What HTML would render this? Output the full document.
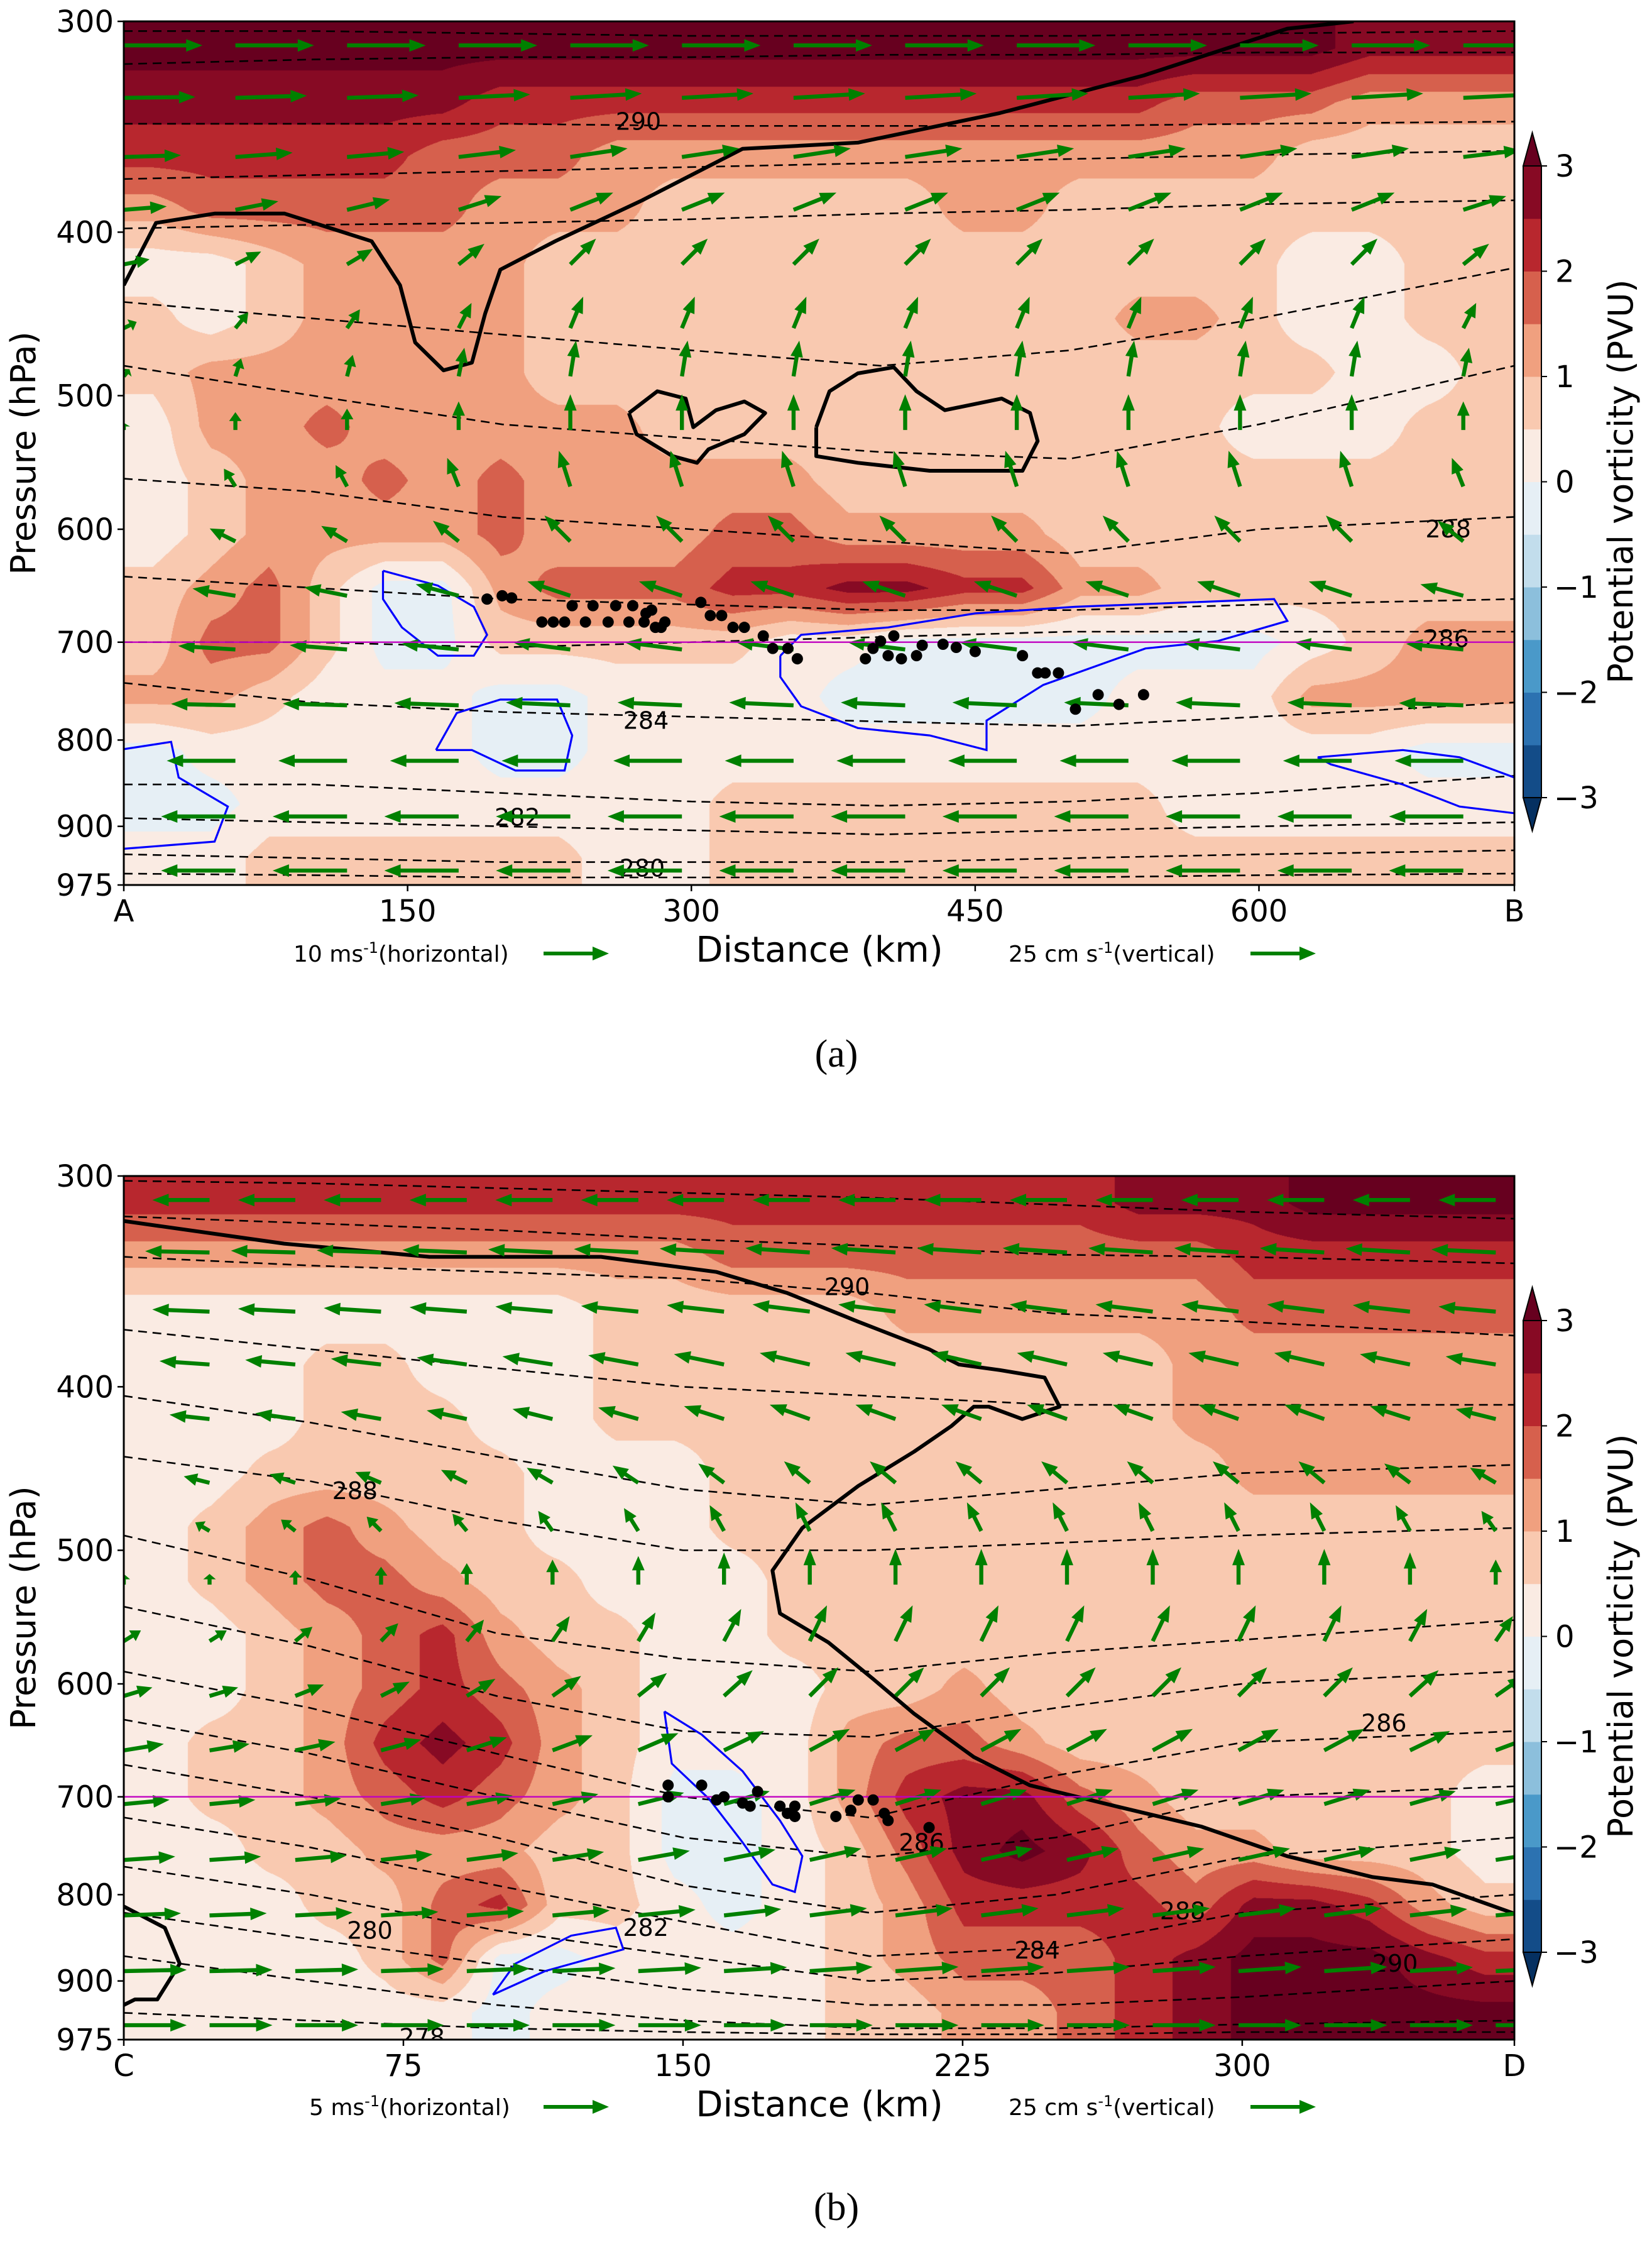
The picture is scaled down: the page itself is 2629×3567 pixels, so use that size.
<!DOCTYPE html>
<html><head><meta charset="utf-8">
<style>
html,body{margin:0;padding:0;background:#fff;}
#root{position:relative;width:2629px;height:3567px;overflow:hidden;font-family:"DejaVu Sans","Liberation Sans",sans-serif;}
canvas{position:absolute;}
svg{position:absolute;left:0;top:0;}
</style></head>
<body>
<div id="root">
<canvas id="cvA" width="2213" height="1374" style="left:197px;top:34px"></canvas>
<canvas id="cvB" width="2213" height="1374" style="left:197px;top:1871px"></canvas>
<svg id="svg" width="2629" height="3567"></svg>
</div>
<script>
// ---------- data ----------
const yTicks=[300,400,500,600,700,800,900,975];
const xTicksA=[0,150,300,450,600,735];
const xTickLabelsA=["A","150","300","450","600","B"];
const xTicksB=[0,75,150,225,300,373];
const xTickLabelsB=["C","75","150","225","300","D"];
const cbTicks=[3,2,1,0,-1,-2,-3];
const cbTickLabels=["3","2","1","0","\u22121","\u22122","\u22123"];
const levelColors=["#134c88","#2c72b1","#4a99c9","#8cbfdc","#c2ddec","#e6eff5","#faebe3","#f9c9b0","#f0a07f","#d6604d","#b8272e","#870a24"];
const overColor="#67001f", underColor="#053061";

const pvA=[
[3.2,3.2,3.2,3.2,3.2,3.2,3.2,3.2,3.2,3.2,3.2,3.2,3.2,3.2,3.2,3.2,3.2,3.2,3.2,3.2,3.2,2.7,2.7,2.7],
[2.7,2.7,2.7,2.7,2.7,2.7,2.2,2.2,2.2,2.2,2.2,2.2,2.2,2.2,2.2,2.2,2.2,2.2,1.7,1.7,1.7,1.2,1.2,1.2],
[2.2,2.2,2.2,2.2,2.2,1.7,1.7,1.7,1.2,1.2,1.2,1.2,1.2,1.2,1.2,1.2,1.2,1.2,1.2,1.2,0.7,0.7,0.7,0.7],
[1.2,1.7,1.7,1.7,1.7,1.7,1.2,1.2,1.2,0.7,0.7,0.7,0.7,0.7,1.2,1.2,0.7,0.7,0.7,0.7,0.7,0.7,0.7,0.7],
[0.2,0.2,0.7,1.2,1.2,1.2,1.2,0.7,0.7,0.7,0.7,0.7,0.7,0.7,0.7,0.7,0.7,0.7,0.7,0.7,0.2,0.2,0.7,0.7],
[0.7,0.2,0.7,1.2,1.2,1.2,1.2,0.7,0.7,0.7,0.7,0.7,0.7,0.7,0.7,0.7,0.7,1.2,1.2,0.7,0.2,0.2,0.7,0.7],
[0.7,1.2,1.2,1.2,1.2,1.2,1.2,0.7,0.7,0.7,0.7,0.7,0.7,0.7,0.7,0.7,0.7,0.7,0.7,0.7,0.7,0.2,0.2,0.7],
[0.2,1.2,1.2,1.7,1.2,1.2,1.2,1.2,1.2,0.7,0.7,0.7,0.7,0.7,0.7,0.7,0.7,0.7,0.7,0.2,0.2,0.2,0.7,0.7],
[0.2,0.7,1.2,1.2,1.7,1.2,1.7,1.2,1.2,1.2,1.2,1.2,0.7,0.7,0.7,0.7,0.7,0.7,0.7,0.7,0.7,0.7,0.7,0.7],
[0.2,0.7,1.2,1.2,1.2,1.2,1.7,1.2,1.2,1.2,1.7,1.7,1.2,1.2,1.2,1.2,0.7,0.7,0.7,0.7,0.7,0.7,0.7,0.7],
[0.7,1.2,1.7,0.7,-0.2,-0.2,1.2,1.7,1.7,1.7,2.2,2.2,2.7,2.7,2.2,2.2,1.2,1.2,0.7,0.7,0.7,0.7,0.7,0.7],
[0.7,1.7,1.7,0.7,-0.2,-0.2,0.7,0.7,0.7,0.7,0.7,0.2,0.2,-0.2,-0.2,-0.2,-0.2,-0.2,-0.2,-0.2,0.2,0.7,1.2,1.2],
[1.2,1.2,0.7,0.2,0.2,0.2,-0.2,-0.2,0.2,0.2,0.2,0.2,-0.2,-0.2,-0.2,-0.2,-0.2,0.2,0.2,0.2,1.2,1.2,1.2,1.2],
[-0.2,0.2,0.2,0.2,0.2,0.2,-0.2,-0.2,0.2,0.2,0.2,0.2,0.2,0.2,0.2,0.2,0.2,0.2,0.2,0.2,0.2,0.2,-0.2,-0.2],
[-0.2,-0.2,0.2,0.2,0.2,0.2,0.2,0.2,0.2,0.2,0.7,0.7,0.7,0.7,0.7,0.7,0.7,0.7,0.2,0.2,0.2,0.2,0.2,0.2],
[0.2,0.2,0.7,0.7,0.7,0.7,0.7,0.7,0.2,0.2,0.7,0.7,0.7,0.7,0.7,0.7,0.7,0.7,0.7,0.7,0.7,0.7,0.7,0.7]];
const pvB=[
[2.2,2.2,2.2,2.2,2.2,2.2,2.2,2.2,2.2,2.2,2.2,2.2,2.2,2.2,2.2,2.2,2.2,2.7,2.7,2.7,3.2,3.2,3.2,3.2],
[1.2,1.2,1.2,1.2,1.2,1.2,1.2,1.2,1.2,1.2,1.7,1.7,1.7,1.7,1.7,1.7,1.7,1.7,1.7,2.2,2.2,2.2,2.2,2.2],
[0.2,0.2,0.2,0.2,0.2,0.2,0.2,0.2,0.7,0.7,0.7,0.7,0.7,1.2,1.2,1.2,1.2,1.2,1.2,1.7,1.7,1.7,1.7,1.7],
[0.2,0.2,0.2,0.7,0.7,0.2,0.2,0.2,0.7,0.7,0.7,0.7,0.7,0.7,0.7,0.7,0.7,0.7,1.2,1.2,1.2,1.2,1.2,1.2],
[0.2,0.2,0.2,0.7,0.7,0.7,0.2,0.2,0.7,0.7,0.7,0.7,0.7,0.7,0.7,0.7,0.7,0.7,1.2,1.2,1.2,1.2,1.2,1.2],
[0.2,0.2,0.7,0.7,0.7,0.7,0.7,0.2,0.2,0.2,0.7,0.7,0.7,0.7,0.7,0.7,0.7,0.7,0.7,1.2,1.2,1.2,1.2,1.2],
[0.2,0.7,1.2,1.7,1.2,0.7,0.7,0.2,0.2,0.2,0.7,0.7,0.7,0.7,0.7,0.7,0.7,0.7,0.7,0.7,0.7,0.7,0.7,0.7],
[0.2,0.7,1.2,1.7,1.7,1.2,0.7,0.7,0.2,0.2,0.2,0.7,0.7,0.7,0.7,0.7,0.7,0.7,0.7,0.7,0.7,0.7,0.7,0.7],
[0.2,0.2,0.7,1.2,1.7,2.2,1.2,0.7,0.7,0.2,0.2,0.7,0.7,0.7,0.7,0.7,0.7,0.7,0.7,0.7,0.7,0.7,0.7,0.7],
[0.2,0.2,0.7,1.2,1.7,2.2,1.7,1.2,0.7,0.2,0.2,0.2,0.7,0.7,1.2,0.7,0.7,0.7,0.7,0.7,0.7,0.7,0.7,0.7],
[0.2,0.7,0.7,1.2,2.2,2.7,2.2,1.2,0.7,0.2,0.2,0.2,1.2,1.7,1.7,1.2,0.7,0.7,0.7,0.7,0.7,0.7,0.7,0.7],
[0.2,0.7,0.7,1.2,1.7,2.2,1.7,1.2,0.7,-0.2,-0.2,0.2,1.2,2.2,2.7,2.7,1.7,1.2,0.7,0.7,0.7,0.7,0.7,0.2],
[0.2,0.2,0.7,0.7,1.2,1.2,1.2,0.7,0.7,-0.2,-0.2,0.2,0.7,1.7,2.7,3.2,2.7,1.7,1.2,1.2,0.7,0.7,0.7,0.2],
[0.2,0.2,0.2,0.7,0.7,1.7,2.2,0.7,0.7,0.2,-0.2,0.2,0.7,1.2,2.2,2.2,2.2,2.2,1.7,2.7,2.7,2.2,1.2,0.7],
[0.2,0.2,0.2,0.2,0.7,1.7,-0.2,-0.2,0.2,0.2,0.2,0.2,0.7,1.2,1.7,1.7,1.7,2.2,2.7,3.2,3.2,3.2,2.7,2.2],
[0.2,0.2,0.2,0.2,0.2,0.2,-0.2,0.2,0.2,0.2,0.2,0.2,0.7,0.7,1.2,1.2,1.7,2.2,2.7,3.2,3.2,3.2,3.2,3.2]];

// theta contour lines (hPa at km stations)
const thetaKmA=[0,100,200,300,400,500,600,735];
const thetaA=[
[304,304,305,306,306,306,305,304],[318,316,315,315,314,314,313,313],[345,345,345,346,346,346,345,344],
[372,370,368,366,364,362,360,358],[398,396,395,393,390,388,385,383],[440,450,460,470,480,470,450,420],
[480,500,520,530,540,545,520,480],[560,570,590,600,610,620,600,590],[640,650,660,665,670,670,665,660],
[700,700,705,700,695,690,690,690],[740,760,770,775,780,785,775,760],[850,850,860,870,875,870,860,840],
[890,895,900,905,910,905,900,895],[935,940,945,945,945,940,935,930],[960,962,965,965,965,965,962,960]];
const thetaKmB=[0,50,100,150,200,250,300,373];
const thetaB=[
[302,303,305,307,309,312,315,318],[317,320,323,327,330,334,335,338],[335,339,342,345,352,362,366,373],
[370,380,390,400,405,410,410,410],[405,420,440,460,470,460,450,445],[440,455,480,500,500,495,490,485],
[490,520,560,580,590,575,565,550],[540,570,610,640,645,620,600,590],[590,620,660,700,720,680,650,640],
[630,660,700,740,760,740,700,690],[670,700,740,790,820,800,760,740],[720,750,790,830,870,860,820,800],
[770,800,840,870,900,890,870,850],[820,850,880,910,930,930,920,900],[870,900,930,950,960,960,955,950],
[940,950,960,965,968,968,965,965]];
const thetaLabelsA=[["290",272,344],["288",700,600],["286",699,697],["284",276,779],["282",208,889],["280",274,953]];
const thetaLabelsB=[["290",194,349],["288",62,461],["286",338,633],["286",214,745],["284",245,863],["288",284,818],["290",341,879],["282",140,837],["280",66,840],["278",80,972]];

// 2-PVU contour (km,hPa)
const pv2A=[[[0,430],[17,395],[48,390],[85,390],[131,405],[146,430],[154,465],[169,483],[184,478],[191,447],[199,421],[228,405],[274,383],[327,357],[388,354],[463,340],[539,323],[615,303],[650,300]],
[[267,512],[282,497],[297,502],[301,522],[313,510],[328,504],[339,512],[328,527],[309,538],[303,548],[290,543],[271,527],[267,512]],
[[366,522],[373,497],[388,485],[407,481],[419,497],[434,510],[464,502],[479,512],[483,532],[475,554],[426,554],[388,548],[366,543],[366,522]]];
const pv2B=[[[0,319],[43,329],[82,335],[128,335],[159,342],[178,352],[197,366],[216,380],[224,388],[235,391],[247,395],[251,411],[241,418],[232,411],[228,411],[222,422],[212,437],[197,458],[182,485],[174,514],[176,545],[189,567],[201,596],[212,625],[228,663],[243,689],[266,709],[289,729],[312,759],[335,781],[351,789],[373,821]],
[[0,813],[11,837],[15,879],[9,923],[3,923],[0,930]]];
// 0-PVU contour (km,hPa)
const pv0A=[[[137,635],[166,648],[185,667],[192,693],[185,713],[166,713],[147,686],[137,660],[137,635]],
[[347,713],[358,693],[404,686],[450,673],[503,667],[608,660],[615,680],[578,699],[540,706],[486,742],[456,779],[456,811],[426,795],[388,787],[358,764],[347,734],[347,713]],
[[165,811],[176,771],[199,757],[229,757],[237,795],[233,834],[207,834],[184,811],[165,811]],
[[0,810],[25,802],[29,842],[55,876],[48,919],[0,928]],
[[631,819],[676,811],[706,819],[735,842],[735,884],[706,876],[676,850],[638,827],[631,819]]];
const pv0B=[[[145,623],[155,643],[166,676],[176,723],[182,759],[180,797],[174,789],[166,745],[157,702],[147,669],[145,623]],
[[99,917],[105,879],[120,846],[132,837],[134,862],[113,888],[99,917]]];

// trajectory points (km,hPa)
const dotsA=[[192,660],[200,657],[205,659],[221,681],[227,681],[233,681],[237,666],[244,681],[248,666],[256,681],[260,666],[267,681],[269,666],[275,681],[276,673],[279,670],[281,686],[284,686],[286,681],[305,663],[310,675],[316,675],[322,686],[328,686],[338,694],[343,706],[351,706],[356,716],[392,716],[396,706],[400,699],[404,713],[407,694],[411,716],[419,713],[422,703],[433,702],[440,705],[450,709],[475,713],[483,730],[487,730],[494,730],[503,767],[515,752],[526,762],[539,752]];
const dotsB=[[146,689],[146,700],[155,689],[159,703],[161,700],[166,706],[168,709],[170,695],[176,709],[178,716],[180,709],[180,719],[191,719],[195,713],[197,703],[201,703],[204,716],[205,723],[216,730]];

// wind vectors: rows in hPa, per-row u and w (display units), per-column w factor
const windRowsP=[310,333,361,388,418,456,487,524,566,610,657,707,763,823,888,956];
const uA=[55,50,40,30,18,9,4,0,-8,-18,-30,-40,-45,-48,-52,-52];
const wA=[0,3,6,12,18,22,25,25,25,18,10,5,2,0,0,0];
const wColA=[0.2,0.5,0.6,0.8,1,1,1,1,1,1,1,1,0.8];
const windColKmA=[0,59,118,177,236,295,354,413,472,531,590,649,708];
const uB=[-40,-45,-40,-35,-28,-18,-10,0,12,20,28,32,36,40,44,44];
const wB=[0,3,5,8,10,15,20,25,25,20,15,10,8,5,3,0];
const wColB=[0.3,0.3,0.4,0.5,0.6,0.7,0.8,0.9,1,1,1,1,1,1,1,0.9,0.7];
const windColKmB=[0,23,46,69,92,115,138,161,184,207,230,253,276,299,322,345,368];

// ---------- geometry ----------
const X0=197,X1=2410,PH=1374,TOPA=34,TOPB=1871,SC=2.276;
const LN=Math.log(975/300);
function xScale(km,maxKm){return X0+km*(X1-X0)/maxKm;}
function yScale(p,top){return top+PH*Math.log(p/300)/LN;}
const svg=document.getElementById('svg');
const NS="http://www.w3.org/2000/svg";
function mk(tag,attrs,parent){const e=document.createElementNS(NS,tag);for(const k in attrs)e.setAttribute(k,attrs[k]);(parent||svg).appendChild(e);return e;}
function colorFor(v){if(v>=3)return overColor;if(v<-3)return underColor;return levelColors[Math.min(11,Math.floor((v+3)/0.5))];}
function hex(c){return [parseInt(c.substr(1,2),16),parseInt(c.substr(3,2),16),parseInt(c.substr(5,2),16)];}

function drawField(cv,grid){
  const ctx=cv.getContext('2d');const W=cv.width,H=cv.height;
  const img=ctx.createImageData(W,H);const d=img.data;
  const R=grid.length,C=grid[0].length;
  for(let y=0;y<H;y++){
    let gy=y/H*R-0.5;gy=Math.max(0,Math.min(R-1,gy));const r0=Math.floor(gy),r1=Math.min(R-1,r0+1),fy=gy-r0;
    for(let x=0;x<W;x++){
      let gx=x/W*C-0.5;gx=Math.max(0,Math.min(C-1,gx));const c0=Math.floor(gx),c1=Math.min(C-1,c0+1),fx=gx-c0;
      const v=(grid[r0][c0]*(1-fx)+grid[r0][c1]*fx)*(1-fy)+(grid[r1][c0]*(1-fx)+grid[r1][c1]*fx)*fy;
      const col=hex(colorFor(v));const i=(y*W+x)*4;d[i]=col[0];d[i+1]=col[1];d[i+2]=col[2];d[i+3]=255;
    }
  }
  ctx.putImageData(img,0,0);
}
drawField(document.getElementById('cvA'),pvA);
drawField(document.getElementById('cvB'),pvB);

function pathOf(pts,maxKm,top){return pts.map((p,i)=>(i?'L':'M')+xScale(p[0],maxKm).toFixed(1)+','+yScale(p[1],top).toFixed(1)).join(' ');}

function drawPanel(top,maxKm,theta,thetaKm,labels,pv2,pv0,dots,u,w,wCol,colKm,xt,xtl,tag){
  const g=mk('g',{});
  
  
  mk('clipPath',{id:'clip'+tag},g).appendChild((()=>{const r=document.createElementNS(NS,'rect');r.setAttribute('x',X0);r.setAttribute('y',top);r.setAttribute('width',X1-X0);r.setAttribute('height',PH);return r;})());
  const inner=mk('g',{'clip-path':'url(#clip'+tag+')'},g);
  theta.forEach((row)=>{
    const pts=row.map((p,i)=>[thetaKm[i],p]);
    const e=mk('path',{d:pathOf(pts,maxKm,top),fill:'none',stroke:'#000','stroke-width':2.6,'stroke-dasharray':'14 9'},inner);
    
    
  });
  labels.forEach(l=>{
    const t=mk('text',{x:xScale(l[1],maxKm),y:yScale(l[2],top)+13,'font-size':38,'text-anchor':'middle',fill:'#000'},inner);
    t.textContent=l[0];
    
    
  });
  pv0.forEach(pts=>{
    const e=mk('path',{d:pathOf(pts,maxKm,top),fill:'none',stroke:'#0000ff','stroke-width':3.2},inner);
    
    
  });
  pv2.forEach(pts=>{
    const e=mk('path',{d:pathOf(pts,maxKm,top),fill:'none',stroke:'#000','stroke-width':6,'stroke-linejoin':'round'},inner);
    
    
  });
  windRowsP.forEach((p,ri)=>{
    colKm.forEach((km,ci)=>{
      const dx=u[ri]*SC, dy=-w[ri]*wCol[ci]*SC;
      const L=Math.hypot(dx,dy); if(L<6)return;
      const x0=xScale(km,maxKm), y0=yScale(p,top);
      const ux=dx/L, uy=dy/L, nx=-uy, ny=ux;
      const hl=Math.min(26,L*0.5), sw=3.2, hw=10;
      const bx=x0+ux*(L-hl), by=y0+uy*(L-hl);
      const pts=[[x0+nx*sw,y0+ny*sw],[bx+nx*sw,by+ny*sw],[bx+nx*hw,by+ny*hw],[x0+dx,y0+dy],[bx-nx*hw,by-ny*hw],[bx-nx*sw,by-ny*sw],[x0-nx*sw,y0-ny*sw]];
      const a=mk('polygon',{points:pts.map(q=>q[0].toFixed(1)+','+q[1].toFixed(1)).join(' '),fill:'#008000'},inner);
      
      
    });
  });
  const ml=mk('line',{x1:X0,x2:X1,y1:yScale(700,top),y2:yScale(700,top),stroke:'#c000c0','stroke-width':2.4},inner);
  
  
  dots.forEach(dp=>{
    const c=mk('circle',{cx:xScale(dp[0],maxKm),cy:yScale(dp[1],top),r:9,fill:'#000'},inner);
    
    
  });
  const fr=mk('rect',{x:X0,y:top,width:X1-X0,height:PH,fill:'none',stroke:'#000','stroke-width':3},g);
  
  
  yTicks.forEach(p=>{
    const y=yScale(p,top);
    mk('line',{x1:X0-10,x2:X0,y1:y,y2:y,stroke:'#000','stroke-width':2.5},g);
    const t=mk('text',{x:X0-16,y:y+17,'font-size':48,'text-anchor':'end',fill:'#000'},g);
    t.textContent=p;
    
    
  });
  xt.forEach((km,i)=>{
    const x=xScale(km,maxKm);
    mk('line',{x1:x,x2:x,y1:top+PH,y2:top+PH+10,stroke:'#000','stroke-width':2.5},g);
    const t=mk('text',{x:x,y:top+PH+58,'font-size':48,'text-anchor':'middle',fill:'#000'},g);
    t.textContent=xtl[i];
    
    
  });
  const yl=mk('text',{x:0,y:0,'font-size':54,'text-anchor':'middle',transform:'translate(56,'+(top+PH/2)+') rotate(-90)'},g);
  yl.textContent='Pressure (hPa)';
  
  
  const xl=mk('text',{x:1304,y:top+PH+122,'font-size':56,'text-anchor':'middle'},g);
  xl.textContent='Distance (km)';
  
  
  const c3=top+230, band=1005/12, cx=2424, cw=29;
  levelColors.forEach((c,i)=>{
    const r=mk('rect',{x:cx,y:c3+(11-i)*band,width:cw,height:band+0.5,fill:c},g);
    
    
  });
  mk('polygon',{points:`${cx},${c3} ${cx+cw/2},${c3-53} ${cx+cw},${c3}`,fill:overColor,stroke:'#000','stroke-width':2},g);
  mk('polygon',{points:`${cx},${c3+1005} ${cx+cw/2},${c3+1058} ${cx+cw},${c3+1005}`,fill:underColor,stroke:'#000','stroke-width':2},g);
  mk('rect',{x:cx,y:c3,width:cw,height:1005,fill:'none',stroke:'#000','stroke-width':2},g);
  cbTicks.forEach((v,i)=>{
    const y=c3+(3-v)*1005/6;
    mk('line',{x1:cx+cw,x2:cx+cw+9,y1:y,y2:y,stroke:'#000','stroke-width':2},g);
    const t=mk('text',{x:cx+cw+ (v<0?20:22),y:y+17,'font-size':48,fill:'#000'},g);
    t.textContent=cbTickLabels[i];
    
    
  });
  const cl=mk('text',{x:0,y:0,'font-size':54,'text-anchor':'middle',transform:'translate(2598,'+(c3+502)+') rotate(-90)'},g);
  cl.textContent='Potential vorticity (PVU)';
  
  
}
drawPanel(TOPA,735,thetaA,thetaKmA,thetaLabelsA,pv2A,pv0A,dotsA,uA,wA,wColA,windColKmA,xTicksA,xTickLabelsA,'a');
drawPanel(TOPB,373,thetaB,thetaKmB,thetaLabelsB,pv2B,pv0B,dotsB,uB,wB,wColB,windColKmB,xTicksB,xTickLabelsB,'b');

function key(x,y,txt,ax){
  const t=mk('text',{x:x,y:y,'font-size':36,fill:'#000'});
  t.innerHTML=txt;
  
  
  const a=mk('polygon',{points:`${ax},${y-16} ${ax+78},${y-16} ${ax+78},${y-24} ${ax+104},${y-13} ${ax+78},${y-2} ${ax+78},${y-10} ${ax},${y-10}`,fill:'#008000'});
  
  
}
key(467,1530,'10 ms<tspan baseline-shift="super" font-size="24">-1</tspan>(horizontal)',865);
key(1605,1530,'25 cm s<tspan baseline-shift="super" font-size="24">-1</tspan>(vertical)',1990);
key(492,3365,'5 ms<tspan baseline-shift="super" font-size="24">-1</tspan>(horizontal)',865);
key(1605,3365,'25 cm s<tspan baseline-shift="super" font-size="24">-1</tspan>(vertical)',1990);
const ca=mk('text',{x:1331,y:1697,'font-size':62,'text-anchor':'middle','font-family':'Liberation Serif, serif'});
ca.textContent='(a)';


const cb=mk('text',{x:1331,y:3532,'font-size':62,'text-anchor':'middle','font-family':'Liberation Serif, serif'});
cb.textContent='(b)';


</script>
</body></html>
